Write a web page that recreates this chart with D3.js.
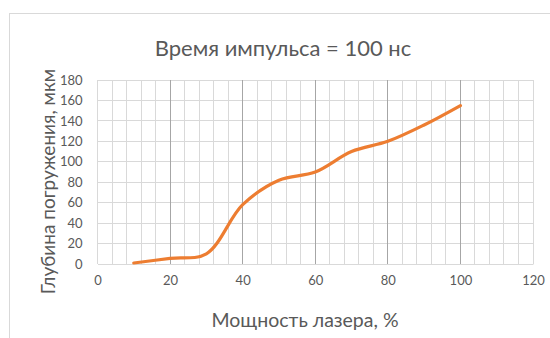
<!DOCTYPE html>
<html><head><meta charset="utf-8">
<script src="https://cdn.jsdelivr.net/npm/d3@7"></script>
<style>body{margin:0;background:#fff}svg{display:block}text{font-family:Lato,"Open Sans",sans-serif}</style>
</head><body>
<svg id="c" width="550" height="338"></svg>
<script>
const power = [10,20,30,40,50,60,70,80,90,100];
const depth = [1,5.5,10,58,82,90,110,120,136,155];
const xTicks = [0,20,40,60,80,100,120];
const yTicks = [0,20,40,60,80,100,120,140,160,180];
const title = "Время импульса = 100 нс";
const xTitle = "Мощность лазера, %";
const yTitle = "Глубина погружения, мкм";

const svg = d3.select("#c");
const m = {l:97.5, r:533, t:80, b:264};
const x = d3.scaleLinear().domain([0,120]).range([m.l,m.r]);
const y = d3.scaleLinear().domain([0,180]).range([m.b,m.t]);

svg.append("rect").attr("x",9.5).attr("y",13.5).attr("width",560).attr("height",340)
  .attr("fill","#fff").attr("stroke","#d9d9d9");

const g = svg.append("g");
g.selectAll("line.mv").data(d3.range(0,121,4)).join("line")
  .attr("x1",d=>x(d)).attr("x2",d=>x(d)).attr("y1",m.t).attr("y2",m.b)
  .attr("stroke","#d9d9d9").attr("stroke-width",1).attr("shape-rendering","crispEdges");
g.selectAll("line.h").data(yTicks).join("line")
  .attr("x1",m.l).attr("x2",m.r).attr("y1",d=>y(d)).attr("y2",d=>y(d))
  .attr("stroke","#d9d9d9").attr("stroke-width",1).attr("shape-rendering","crispEdges");
g.selectAll("line.v").data(xTicks.filter(d=>d>0&&d<120)).join("line")
  .attr("x1",d=>x(d)).attr("x2",d=>x(d)).attr("y1",m.t).attr("y2",m.b)
  .attr("stroke","#a6a6a6").attr("stroke-width",1).attr("shape-rendering","crispEdges");

const xa = svg.append("g").attr("transform",`translate(0,${m.b})`)
  .call(d3.axisBottom(x).tickValues(xTicks).tickSize(0).tickPadding(12));
xa.select(".domain").attr("stroke","#d9d9d9");
const ya = svg.append("g").attr("transform",`translate(${m.l},0)`)
  .call(d3.axisLeft(y).tickValues(yTicks).tickSize(0).tickPadding(15));
ya.select(".domain").remove();
svg.selectAll(".tick text").attr("fill","#595959").attr("font-size","13px")
  .style("font-family","Lato,'Open Sans',sans-serif");

svg.append("path").datum(power.map((p,i)=>[p,depth[i]]))
  .attr("d",d3.line().x(d=>x(d[0])).y(d=>y(d[1])).curve(d3.curveCatmullRom.alpha(0.5)))
  .attr("fill","none").attr("stroke","#ED7D31").attr("stroke-width",3.2).attr("stroke-linecap","round");

svg.append("text").attr("x",283).attr("y",56).attr("text-anchor","middle")
  .attr("fill","#595959").attr("font-size","22px").text(title);
svg.append("text").attr("x",305).attr("y",327).attr("text-anchor","middle")
  .attr("fill","#595959").attr("font-size","19.5px").text(xTitle);
svg.append("text").attr("transform","translate(55,181.5) rotate(-90)").attr("text-anchor","middle")
  .attr("fill","#595959").attr("font-size","19px").text(yTitle);
</script>
</body></html>
